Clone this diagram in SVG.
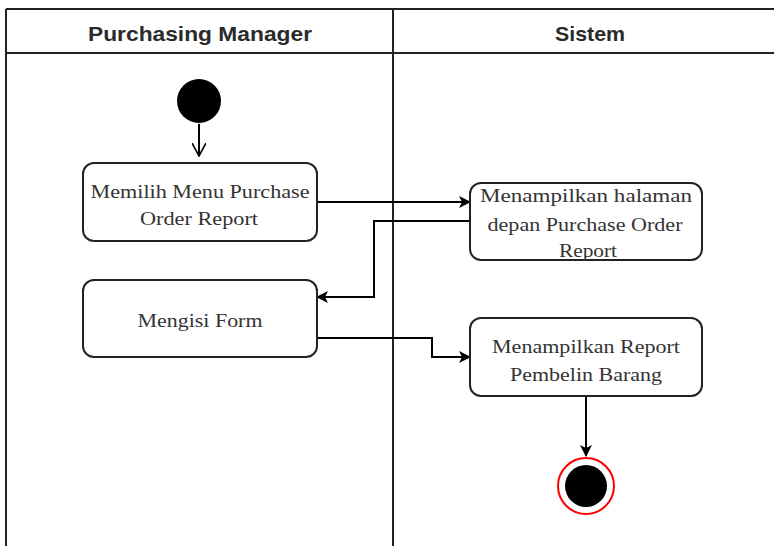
<svg xmlns="http://www.w3.org/2000/svg" width="774" height="546" viewBox="0 0 774 546">
  <style>
    .lane { stroke: #222; stroke-width: 2; fill: none; }
    .head { font-family: "Liberation Sans", Arial, sans-serif; font-weight: bold; font-size: 21px; fill: #2a2a2a; text-anchor: middle; }
    .act rect { fill: #fff; stroke: #222; stroke-width: 2; }
    .act text { font-family: "Liberation Serif", "Times New Roman", serif; font-size: 18px; fill: #333; text-anchor: middle; }
    .flow { stroke: #000; stroke-width: 2; fill: none; }
  </style>
  <defs>
    <marker id="arrowFilled" viewBox="0 0 12 12" refX="11" refY="6" markerWidth="12" markerHeight="12" markerUnits="userSpaceOnUse" orient="auto">
      <path d="M0,0 L12,6 L0,12 L3,6 Z" fill="#000"/>
    </marker>
    <marker id="arrowOpen" viewBox="0 0 14 14" refX="13" refY="7" markerWidth="14" markerHeight="14" markerUnits="userSpaceOnUse" orient="auto">
      <path d="M0,0 L13,7 L0,14" fill="none" stroke="#000" stroke-width="1.6"/>
    </marker>
  </defs>

  <!-- swimlanes -->
  <g id="lanes">
    <path class="lane" d="M6,9 H774 M6,53 H774 M6,9 V546 M393,9 V546"/>
    <text class="head" x="200" y="41" textLength="224" lengthAdjust="spacingAndGlyphs">Purchasing Manager</text>
    <text class="head" x="590" y="41" textLength="70" lengthAdjust="spacingAndGlyphs">Sistem</text>
  </g>

  <!-- connectors -->
  <g id="connectors">
    <path class="flow" d="M199,124 V156" marker-end="url(#arrowOpen)"/>
    <path class="flow" d="M317,202 H470" marker-end="url(#arrowFilled)"/>
    <path class="flow" d="M470,221 H374 V297 H317" marker-end="url(#arrowFilled)"/>
    <path class="flow" d="M317,338 H432 V357 H470" marker-end="url(#arrowFilled)"/>
    <path class="flow" d="M586,396 V456" marker-end="url(#arrowFilled)"/>
  </g>

  <!-- initial node -->
  <g id="start">
    <circle cx="199" cy="101" r="22" fill="#000"/>
  </g>

  <g id="memilih-menu" class="act">
    <rect x="83" y="163" width="234" height="78" rx="11"/>
    <text x="200" y="198" textLength="219" lengthAdjust="spacingAndGlyphs">Memilih Menu Purchase</text>
    <text x="199" y="225" textLength="118" lengthAdjust="spacingAndGlyphs">Order Report</text>
  </g>

  <g id="menampilkan-halaman" class="act">
    <rect x="470" y="183" width="232" height="77" rx="11"/>
    <text x="586" y="202" textLength="212" lengthAdjust="spacingAndGlyphs">Menampilkan  halaman</text>
    <text x="585" y="231" textLength="195" lengthAdjust="spacingAndGlyphs">depan Purchase Order</text>
    <text x="588" y="257" textLength="58" lengthAdjust="spacingAndGlyphs">Report</text>
  </g>

  <g id="mengisi-form" class="act">
    <rect x="83" y="280" width="234" height="77" rx="11"/>
    <text x="200" y="327" textLength="125" lengthAdjust="spacingAndGlyphs">Mengisi Form</text>
  </g>

  <g id="menampilkan-report" class="act">
    <rect x="470" y="318" width="232" height="78" rx="11"/>
    <text x="586" y="353" textLength="188" lengthAdjust="spacingAndGlyphs">Menampilkan Report</text>
    <text x="586" y="381" textLength="152" lengthAdjust="spacingAndGlyphs">Pembelin Barang</text>
  </g>

  <!-- final node -->
  <g id="end">
    <circle cx="586" cy="486" r="28" fill="#fff" stroke="#f00" stroke-width="2"/>
    <circle cx="586" cy="486" r="21" fill="#000"/>
  </g>
</svg>
